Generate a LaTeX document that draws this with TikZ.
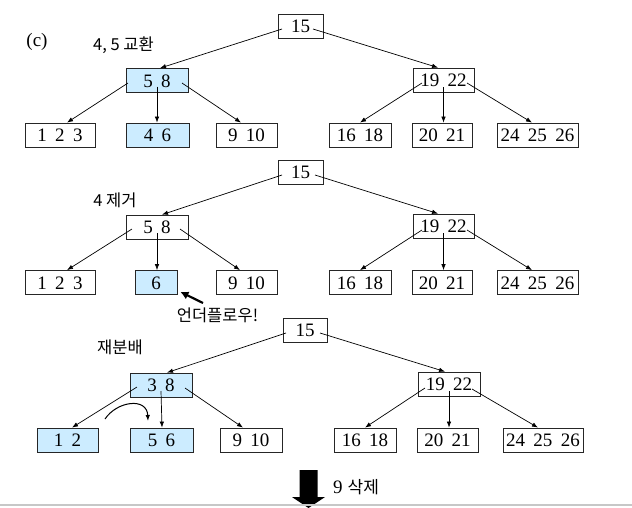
\documentclass[tikz,border=0pt]{standalone}
\usepackage{fontspec}
\setmainfont{Liberation Serif}
\newfontfamily\krfont{Noto Sans CJK KR}
\usetikzlibrary{arrows.meta}

\definecolor{hlblue}{RGB}{204,236,255}
\newcommand\keyfont{\fontsize{19}{19}\selectfont\spaceskip=8.5pt\relax}

\begin{document}
\begin{tikzpicture}[x=1pt,y=-1pt,
  key/.style={draw=black!85, line width=0.8pt, fill=white, inner sep=0pt,
    minimum height=24pt, text height=13pt, text depth=0pt, font=\keyfont},
  hl/.style={key, fill=hlblue},
  lbl/.style={inner sep=0pt, font=\krfont\fontsize{16.5}{16.5}\selectfont},
  conn/.style={-{Latex[length=6pt,width=4.5pt]}, line width=0.7pt, black}]

\fill[white] (0,0) rectangle (632,507);
\useasboundingbox (0,0) rectangle (632,507);

\node[inner sep=0pt, font=\fontsize{19}{19}\selectfont] (tag) at (37,42) {(c)};

% ---- step 1: swap 4 and 5
\node[lbl] (cap1) at (123.5,45) {4, 5 교환};
\node[key, minimum width=45pt] (r1) at (300.5,26) {15};
\node[hl,  minimum width=62pt] (p1) at (157,80.5) {5 8};
\node[key, minimum width=61pt] (q1) at (443.5,80) {19 22};
\node[key, minimum width=70pt] (a1) at (60,135) {1 2 3};
\node[hl,  minimum width=63pt] (b1) at (157.5,135) {4 6};
\node[key, minimum width=61pt] (c1) at (246.5,135) {9 10};
\node[key, minimum width=62pt] (d1) at (360,135) {16 18};
\node[key, minimum width=60pt] (e1) at (442,135) {20 21};
\node[key, minimum width=81pt] (f1) at (537.5,135) {24 25 26};

\draw[conn] ([xshift=-18.5pt,yshift=-3pt]r1.center) -- ([xshift=3pt]p1.north);
\draw[conn] ([xshift=12.5pt,yshift=-3pt]r1.center) -- ([xshift=-5.5pt]q1.north);
\draw[conn] ([xshift=-29pt,yshift=-2.5pt]p1.center) -- ([xshift=7pt]a1.north);
\draw[conn] ([yshift=-6pt]p1.center) -- ([xshift=-0.5pt]b1.north);
\draw[conn] ([xshift=25pt,yshift=-2.5pt]p1.center) -- ([xshift=-5.5pt]c1.north);
\draw[conn] ([xshift=-21.5pt,yshift=-3pt]q1.center) -- (d1.north);
\draw[conn] ([yshift=-7pt]q1.center) -- ([xshift=1.5pt]e1.north);
\draw[conn] ([xshift=23.5pt,yshift=-3pt]q1.center) -- ([xshift=-5.5pt]f1.north);

% ---- step 2: delete 4
\node[lbl] (cap2) at (115,200) {4 제거};
\node[key, minimum width=45pt] (r2) at (300.5,172) {15};
\node[key, minimum width=62pt] (p2) at (157,227) {5 8};
\node[key, minimum width=61pt] (q2) at (443.5,226) {19 22};
\node[key, minimum width=70pt] (a2) at (60,282.5) {1 2 3};
\node[hl,  minimum width=42pt] (b2) at (156,282.5) {6};
\node[key, minimum width=61pt] (c2) at (246.5,282.5) {9 10};
\node[key, minimum width=62pt] (d2) at (360,282.5) {16 18};
\node[key, minimum width=60pt] (e2) at (442,282.5) {20 21};
\node[key, minimum width=81pt] (f2) at (537.5,282.5) {24 25 26};

\draw[conn] ([xshift=-18.5pt,yshift=-3pt]r2.center) -- ([xshift=5pt]p2.north);
\draw[conn] ([xshift=14.5pt,yshift=-3pt]r2.center) -- ([xshift=-5.5pt]q2.north);
\draw[conn] ([xshift=-25pt,yshift=-2pt]p2.center) -- ([xshift=7pt]a2.north);
\draw[conn] ([yshift=-6pt]p2.center) -- ([xshift=1pt]b2.north);
\draw[conn] ([xshift=23pt,yshift=-2pt]p2.center) -- ([xshift=-6.5pt]c2.north);
\draw[conn] ([xshift=-21.5pt,yshift=-4pt]q2.center) -- (d2.north);
\draw[conn] ([yshift=-7pt]q2.center) -- ([xshift=1.5pt]e2.north);
\draw[conn] ([xshift=23.5pt,yshift=-4pt]q2.center) -- ([xshift=-5.5pt]f2.north);

% underflow marker
\node[lbl] (uf) at (217.5,315) {언더플로우!};
\coordinate (ufTail) at (203,303);
\draw[line width=2.2pt, -{Latex[length=8pt,width=8.5pt]}] (ufTail) -- ([xshift=3pt,yshift=3pt]b2.south east);

% ---- step 3: redistribution
\node[lbl] (cap3) at (120,347) {재분배};
\node[key, minimum width=44pt] (r3) at (305,330) {15};
\node[hl,  minimum width=62pt] (p3) at (161,385) {3 8};
\node[key, minimum width=62pt] (q3) at (449,384) {19 22};
\node[hl,  minimum width=61pt] (a3) at (67.5,440) {1 2};
\node[hl,  minimum width=63pt] (b3) at (161.5,440) {5 6};
\node[key, minimum width=62pt] (c3) at (251,440) {9 10};
\node[key, minimum width=62pt] (d3) at (365,440) {16 18};
\node[key, minimum width=61pt] (e3) at (447.5,440) {20 21};
\node[key, minimum width=80pt] (f3) at (543,440) {24 25 26};

\draw[conn] ([xshift=-19pt,yshift=-3pt]r3.center) -- ([xshift=6pt]p3.north);
\draw[conn] ([xshift=15pt,yshift=-3pt]r3.center) -- ([xshift=-4pt]q3.north);
\draw[conn] ([xshift=-24pt,yshift=-2pt]p3.center) -- ([xshift=4.5pt]a3.north);
\draw[conn] ([yshift=-6pt]p3.center) -- ([xshift=0.5pt]b3.north);
\draw[conn] ([xshift=24pt,yshift=-3pt]p3.center) -- ([xshift=-8pt]c3.north);
\draw[conn] ([xshift=-24pt,yshift=-4pt]q3.center) -- (d3.north);
\draw[conn] ([yshift=-7pt]q3.center) -- ([xshift=1.5pt]e3.north);
\draw[conn] ([xshift=23pt,yshift=-5pt]q3.center) -- ([xshift=-5pt]f3.north);

% key moved from the left sibling to the right one
\coordinate (moveFrom) at (105,419);
\coordinate (moveTo) at (148,421);
\draw[conn, line width=1pt] (moveFrom) .. controls (117,401) and (147,397) .. (moveTo);

% next step: delete 9
\fill[black] (299.5,470) -- (317.5,470) -- (317.5,497) -- (325,497)
  -- (308.5,508) -- (292,497) -- (299.5,497) -- cycle;
\node[inner sep=0pt] (next) at (356,487)
  {{\fontsize{19}{19}\selectfont 9}\hspace{5pt}{\krfont\fontsize{17}{17}\selectfont 삭제}};
\draw[black!22, line width=2pt] (0,505) -- (632,505);

\end{tikzpicture}
\end{document}
